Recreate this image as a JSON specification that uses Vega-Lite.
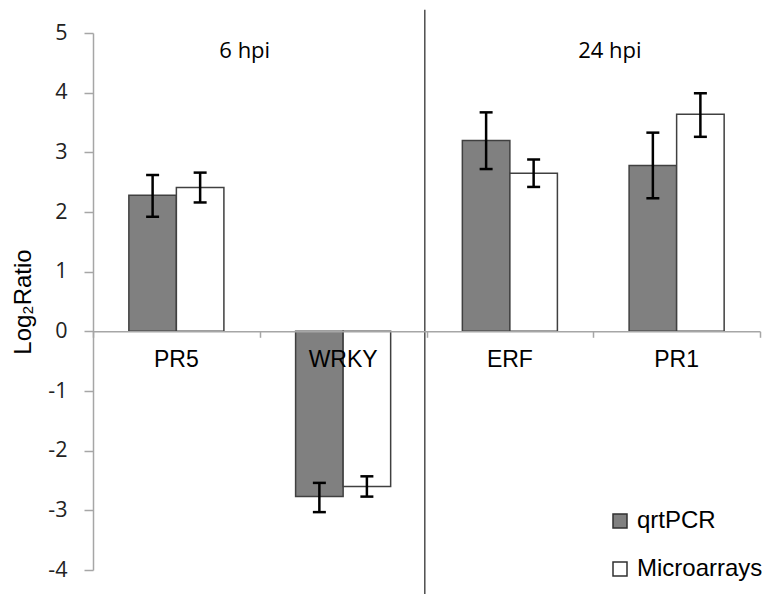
{
  "$schema": "https://vega.github.io/schema/vega-lite/v6.json",
  "width": 667,
  "height": 537,
  "autosize": "none",
  "padding": {"left": 93, "top": 33, "right": 14, "bottom": 24},
  "background": "white",
  "config": {
    "view": {"stroke": null},
    "axis": {"grid": false}
  },
  "layer": [
    {
      "data": {
        "values": [
          {"gene": "PR5", "series": "qrtPCR", "value": 2.28, "lo": 1.92, "hi": 2.62},
          {"gene": "PR5", "series": "Microarrays", "value": 2.41, "lo": 2.16, "hi": 2.66},
          {"gene": "WRKY", "series": "qrtPCR", "value": -2.77, "lo": -3.03, "hi": -2.54},
          {"gene": "WRKY", "series": "Microarrays", "value": -2.6, "lo": -2.77, "hi": -2.43},
          {"gene": "ERF", "series": "qrtPCR", "value": 3.2, "lo": 2.72, "hi": 3.67},
          {"gene": "ERF", "series": "Microarrays", "value": 2.65, "lo": 2.42, "hi": 2.88},
          {"gene": "PR1", "series": "qrtPCR", "value": 2.78, "lo": 2.23, "hi": 3.33},
          {"gene": "PR1", "series": "Microarrays", "value": 3.64, "lo": 3.26, "hi": 3.99}
        ]
      },
      "encoding": {
        "x": {
          "field": "gene",
          "type": "nominal",
          "sort": ["PR5", "WRKY", "ERF", "PR1"],
          "scale": {"paddingInner": 0.43, "paddingOuter": 0.215},
          "axis": {
            "orient": "bottom",
            "offset": -238.7,
            "title": null,
            "domain": false,
            "ticks": false,
            "tickSize": 0,
            "labelAngle": 0,
            "labelFont": "Liberation Sans",
            "labelFontSize": 23,
            "labelColor": "#000000",
            "labelBaseline": "middle",
            "labelPadding": 28,
            "zindex": 2
          }
        },
        "xOffset": {
          "field": "series",
          "type": "nominal",
          "scale": {"domain": ["qrtPCR", "Microarrays"], "paddingInner": 0, "paddingOuter": 0}
        }
      },
      "layer": [
        {
          "mark": {"type": "bar", "stroke": "#404040", "strokeWidth": 1.5},
          "encoding": {
            "y": {
              "field": "value",
              "type": "quantitative",
              "scale": {"domain": [-4, 5], "nice": false, "zero": false},
              "axis": {
                "values": [-4, -3, -2, -1, 0, 1, 2, 3, 4, 5],
                "labelExpr": "'' + datum.value",
                "title": "Log₂Ratio",
                "titleFont": "Liberation Sans",
                "titleFontSize": 24,
                "titleFontWeight": "normal",
                "titleColor": "#000000",
                "titlePadding": 12,
                "labelFont": "Open Sans",
                "labelFontSize": 21.5,
                "labelColor": "#222222",
                "labelPadding": 17,
                "tickSize": 9,
                "tickColor": "#a6a6a6",
                "domainColor": "#a6a6a6",
                "tickWidth": 1.5,
                "domainWidth": 1.5
              }
            },
            "y2": {"datum": 0},
            "color": {
              "field": "series",
              "type": "nominal",
              "scale": {"domain": ["qrtPCR", "Microarrays"], "range": ["#808080", "#ffffff"]},
              "legend": {
                "title": null,
                "orient": "none",
                "legendX": 515,
                "legendY": 476,
                "padding": 0,
                "symbolType": "square",
                "symbolSize": 196,
                "symbolStrokeColor": "#303030",
                "symbolStrokeWidth": 1.5,
                "symbolOpacity": 1,
                "labelFont": "Liberation Sans",
                "labelFontSize": 24,
                "labelColor": "#000000",
                "labelOffset": 5,
                "rowPadding": 24,
                "labelLimit": 0
              }
            }
          }
        },
        {
          "mark": {"type": "rule", "color": "#000000", "strokeWidth": 2.5},
          "encoding": {
            "y": {"field": "lo", "type": "quantitative"},
            "y2": {"field": "hi"}
          }
        },
        {
          "mark": {"type": "tick", "color": "#000000", "thickness": 2.5, "size": 13, "opacity": 1},
          "encoding": {"y": {"field": "lo", "type": "quantitative"}}
        },
        {
          "mark": {"type": "tick", "color": "#000000", "thickness": 2.5, "size": 13, "opacity": 1},
          "encoding": {"y": {"field": "hi", "type": "quantitative"}}
        }
      ]
    },
    {
      "data": {"values": [{}]},
      "layer": [
        {
          "mark": {"type": "rule", "color": "#222222", "strokeWidth": 1.2, "clip": false},
          "encoding": {
            "x": {
              "datum": 1.99,
              "type": "quantitative",
              "scale": {"domain": [0, 4], "nice": false, "zero": false},
              "axis": {
                "orient": "bottom",
                "offset": -238.7,
                "title": null,
                "values": [0, 1, 2, 3, 4],
                "labels": false,
                "tickSize": 6,
                "tickColor": "#a6a6a6",
                "domainColor": "#a6a6a6",
                "tickWidth": 1.5,
                "domainWidth": 1.5,
                "zindex": 1
              }
            },
            "y": {"datum": 5.39},
            "y2": {"datum": -4.45}
          }
        },
        {
          "mark": {"type": "text", "font": "Open Sans", "fontSize": 22, "color": "#000000", "baseline": "middle"},
          "encoding": {
            "x": {"datum": 0.91, "type": "quantitative"},
            "y": {"datum": 4.7},
            "text": {"value": "6 hpi"}
          }
        },
        {
          "mark": {"type": "text", "font": "Open Sans", "fontSize": 22, "color": "#000000", "baseline": "middle"},
          "encoding": {
            "x": {"datum": 3.1, "type": "quantitative"},
            "y": {"datum": 4.7},
            "text": {"value": "24 hpi"}
          }
        }
      ]
    }
  ],
  "resolve": {"scale": {"x": "independent"}, "axis": {"x": "independent"}}
}
